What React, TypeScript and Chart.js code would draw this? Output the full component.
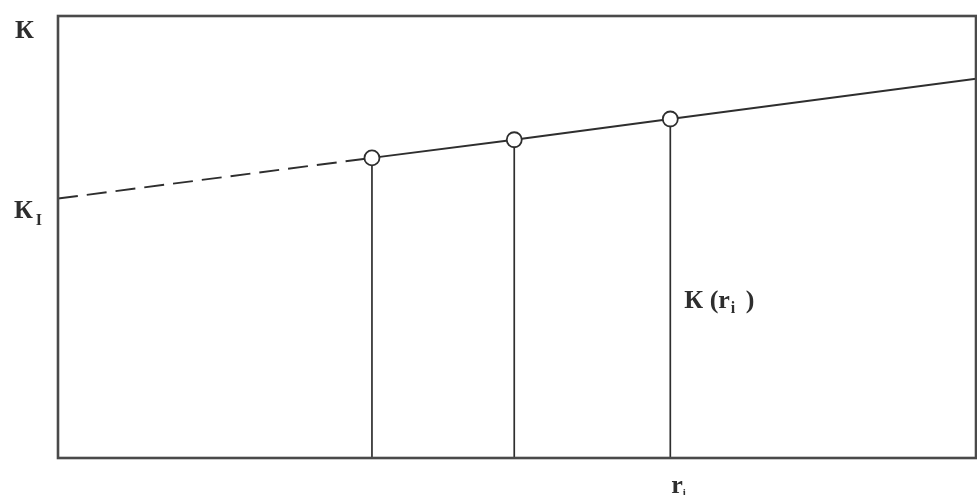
import React, { useEffect, useRef } from "react";
import { Chart, registerables } from "chart.js";

Chart.register(...registerables);

// Line K(r): x positions (0..100 scale) and K values
const lineX = [0, 34.2, 49.7, 66.7, 100];
const lineY = [58.7, 67.9, 72.0, 76.7, 85.8];
// indices of measured points (circles with vertical stems)
const markerIdx = [1, 2, 3];
// Text labels
const yAxisLabel = "К";
const interceptLabel = "К";
const interceptSub = "I";
const curveLabel = "К (r";
const curveLabelSub = "i";
const curveLabelEnd = " )";
const xTickLabel = "r";
const xTickSub = "i";

const INK = "#2e2e2e";

export default function App() {
  const ref = useRef<HTMLCanvasElement | null>(null);

  useEffect(() => {
    if (!ref.current) return;
    const linePts = lineX.map((x, i) => ({ x, y: lineY[i] }));
    const stems = markerIdx.map((i) => ({
      type: "line" as const,
      data: [
        { x: lineX[i], y: 0 },
        { x: lineX[i], y: lineY[i] },
      ],
      borderColor: INK,
      borderWidth: 1.7,
      pointRadius: 0,
      fill: false,
    }));

    const labelsPlugin = {
      id: "labels",
      afterDraw(chart: any) {
        const { ctx, chartArea, scales } = chart;
        const xs = scales.x;
        const ys = scales.y;
        ctx.save();
        // frame
        ctx.strokeStyle = "#4a4a4a";
        ctx.lineWidth = 2.6;
        ctx.strokeRect(
          chartArea.left,
          chartArea.top,
          chartArea.right - chartArea.left,
          chartArea.bottom - chartArea.top
        );
        ctx.fillStyle = INK;
        ctx.textBaseline = "alphabetic";
        ctx.textAlign = "left";
        const big = "bold 26px 'Liberation Serif', 'DejaVu Serif', serif";
        const small = "bold 16px 'Liberation Serif', 'DejaVu Serif', serif";

        // Y axis label at top
        ctx.font = big;
        ctx.fillText(yAxisLabel, 15, 38);

        // Intercept label K_I
        const yI = ys.getPixelForValue(lineY[0]);
        ctx.font = big;
        ctx.fillText(interceptLabel, 14, yI + 19);
        const kw = ctx.measureText(interceptLabel).width;
        ctx.font = small;
        ctx.fillText(interceptSub, 14 + kw + 3, yI + 26);

        // Curve label K(r_i)
        const xm = xs.getPixelForValue(lineX[markerIdx[markerIdx.length - 1]]);
        ctx.font = big;
        let x = xm + 14;
        const base = 308;
        ctx.fillText(curveLabel, x, base);
        x += ctx.measureText(curveLabel).width + 1;
        ctx.font = small;
        ctx.fillText(curveLabelSub, x, base + 5);
        x += ctx.measureText(curveLabelSub).width + 4;
        ctx.font = big;
        ctx.fillText(curveLabelEnd, x, base);

        // x tick label r_i
        ctx.font = big;
        ctx.fillText(xTickLabel, xm + 1, chartArea.bottom + 35);
        const w = ctx.measureText(xTickLabel).width;
        ctx.font = "bold 11px 'Liberation Serif', serif";
        ctx.fillText(xTickSub, xm + 1 + w, chartArea.bottom + 38);
        ctx.restore();
      },
    };

    const chart = new Chart(ref.current, {
      type: "line",
      data: {
        datasets: [
          {
            data: linePts,
            borderColor: INK,
            borderWidth: 1.9,
            fill: false,
            tension: 0,
            pointRadius: (c: any) => (markerIdx.includes(c.dataIndex) ? 7.5 : 0),
            pointBackgroundColor: "#ffffff",
            pointBorderColor: INK,
            pointBorderWidth: 1.8,
            segment: {
              borderDash: (c: any) => (c.p0DataIndex === 0 ? [20, 9] : undefined),
            },
          },
          ...stems,
        ] as any,
      },
      options: {
        responsive: false,
        animation: false,
        layout: { padding: { left: 58, top: 16, right: 1, bottom: 37 } },
        plugins: { legend: { display: false }, tooltip: { enabled: false } },
        scales: {
          x: { type: "linear", min: 0, max: 100, display: false },
          y: { type: "linear", min: 0, max: 100, display: false },
        },
      },
      plugins: [labelsPlugin],
    });
    return () => chart.destroy();
  }, []);

  return (
    <div style={{ position: "absolute", left: 0, top: 0, width: 977, height: 495, background: "#fff" }}>
      <canvas ref={ref} width={977} height={495} />
    </div>
  );
}
